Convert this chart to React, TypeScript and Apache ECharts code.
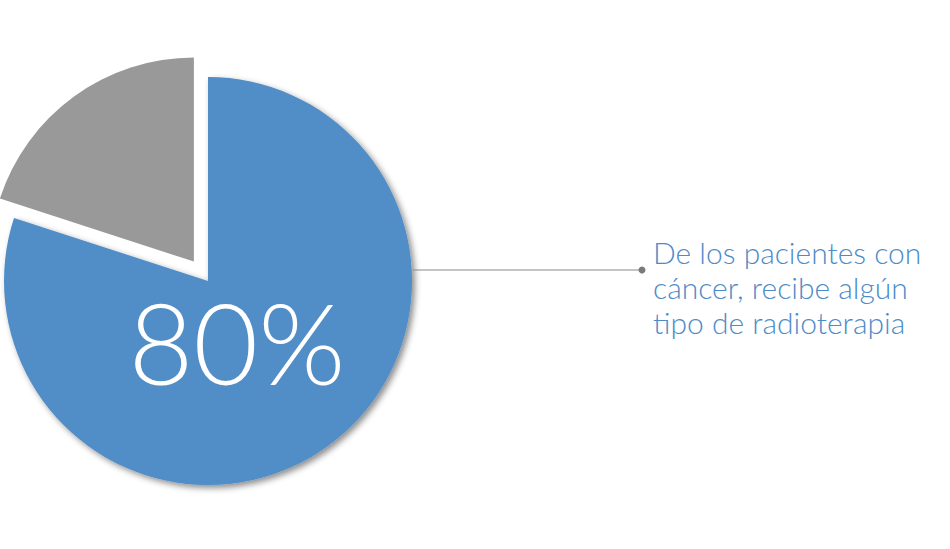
import { useEffect, useRef } from 'react';
import * as echarts from 'echarts';

const categories = ['Recibe radioterapia', 'No recibe'];
const values = [80, 20];
const colors = ['#518dc6', '#999999'];
const noteLines = ['De los pacientes con', 'cáncer, recibe algún', 'tipo de radioterapia'];

const App: React.FC = () => {
  const divRef = useRef<HTMLDivElement | null>(null);

  useEffect(() => {
    if (!divRef.current) return;
    const chart = echarts.init(divRef.current, undefined, { renderer: 'svg' });

    chart.setOption({
      animation: false,
      series: [
        {
          type: 'pie',
          center: [208, 281],
          radius: 204,
          startAngle: 90,
          clockwise: true,
          selectedMode: 'single',
          selectedOffset: 24,
          silent: true,
          label: { show: false },
          labelLine: { show: false },
          data: categories.map((name, i) => ({
            name,
            value: values[i],
            selected: i === 1,
            itemStyle:
              i === 0
                ? {
                    color: colors[i],
                    shadowBlur: 6,
                    shadowOffsetX: 3,
                    shadowOffsetY: 3,
                    shadowColor: 'rgba(0,0,0,0.45)',
                  }
                : { color: colors[i] },
          })),
        },
      ],
      graphic: [
        {
          type: 'text',
          z: 100,
          x: 237,
          y: 341,
          style: {
            text: `${values[0]}%`,
            fill: '#ffffff',
            font: '300 112px Lato, sans-serif',
            align: 'center',
            verticalAlign: 'middle',
          },
        },
        {
          type: 'line',
          z: 100,
          shape: { x1: 413, y1: 270, x2: 642, y2: 270 },
          style: { stroke: '#8a8a8a', lineWidth: 1.2 },
        },
        {
          type: 'circle',
          z: 100,
          shape: { cx: 642, cy: 270, r: 3.5 },
          style: { fill: '#7a7a7a' },
        },
        {
          type: 'text',
          z: 100,
          x: 653,
          y: 234,
          style: {
            text: noteLines.join('\n'),
            fill: '#4d8bc8',
            font: '300 30px Lato, sans-serif',
            lineHeight: 35,
            align: 'left',
            verticalAlign: 'top',
          },
        },
      ],
    });

    return () => chart.dispose();
  }, []);

  return (
    <div
      ref={divRef}
      style={{ position: 'fixed', left: 0, top: 0, width: 950, height: 549, background: '#fff' }}
    />
  );
};

export default App;
